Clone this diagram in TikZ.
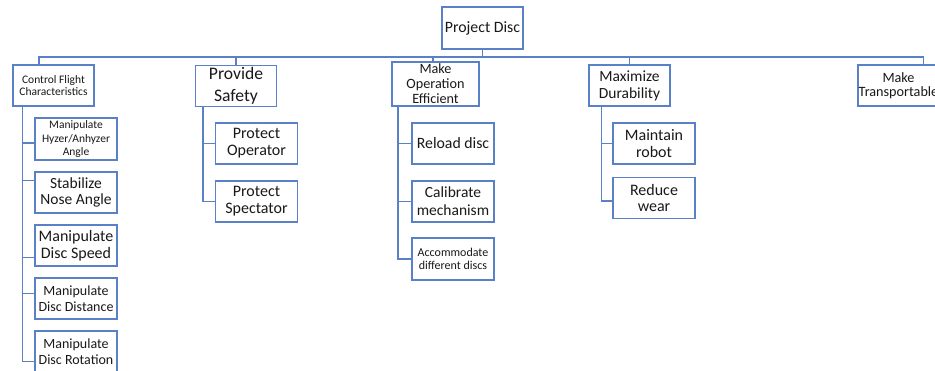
\documentclass[tikz,border=0pt]{standalone}
\usepackage{fontspec}
\setmainfont{Carlito}
\usetikzlibrary{positioning,calc}
\definecolor{boxblue}{HTML}{5A80C8}
\tikzstyle{box}=[rectangle,draw=boxblue,line width=1.1pt,inner sep=0pt,align=center,text=black!90,fill=white]
\tikzstyle{goal}=[box,minimum width=81pt,minimum height=41pt]
\tikzstyle{task}=[box,minimum width=82pt,minimum height=41pt]
\tikzstyle{link}=[draw=boxblue,line width=1.1pt]

\begin{document}
\begin{tikzpicture}[x=1pt,y=-1pt]
\useasboundingbox (0,0) rectangle (935,370);

% top
\node (root) [box,minimum width=81pt,minimum height=42pt,font=\fontsize{15.8}{18}\selectfont] at (482.5,28) {Project Disc};

% main functions
\node (ctrl) [goal,font=\fontsize{11.5}{12.5}\selectfont] at (53.5,85.5) {Control Flight\\Characteristics};
\node (safe) [goal,font=\fontsize{17.6}{22}\selectfont] at (236,86) {Provide\\Safety};
\node (oper) [goal,minimum width=87pt,minimum height=44pt,font=\fontsize{14.2}{15}\selectfont] at (435.5,84) {Make\\Operation\\Efficient};
\node (dura) [goal,font=\fontsize{15.5}{17}\selectfont] at (629.5,85.5) {Maximize\\Durability};
\node (trans) [goal,font=\fontsize{14.2}{14.5}\selectfont] at (898.5,85.5) {Make\\Transportable};

% sub functions
\node (hyz) [task,minimum height=42pt,font=\fontsize{11.5}{13.3}\selectfont] at (76,139) {Manipulate\\Hyzer/Anhyzer\\Angle};
\node (nose) [task,font=\fontsize{15.5}{16.7}\selectfont] at (76,192.5) {Stabilize\\Nose Angle};
\node (speed) [task,font=\fontsize{16}{16.7}\selectfont] at (76,245.5) {Manipulate\\Disc Speed};
\node (dist) [task,font=\fontsize{14}{15.7}\selectfont] at (76,298.5) {Manipulate\\Disc Distance};
\node (rot) [task,font=\fontsize{14}{15.7}\selectfont] at (76,351.5) {Manipulate\\Disc Rotation};

\node (oprt) [task,font=\fontsize{16}{16.7}\selectfont] at (256.5,143.5) {Protect\\Operator};
\node (spec) [task,font=\fontsize{16}{16.7}\selectfont] at (256.5,201.5) {Protect\\Spectator};

\node (reload) [task,font=\fontsize{15.8}{16.7}\selectfont] at (453,143.5) {Reload disc};
\node (calib) [task,font=\fontsize{15.5}{17.7}\selectfont] at (453,201.5) {Calibrate\\mechanism};
\node (accom) [task,minimum height=42pt,font=\fontsize{12}{13.3}\selectfont] at (453,259) {Accommodate\\different discs};

\node (maint) [task,font=\fontsize{16}{16.7}\selectfont] at (654,143.5) {Maintain\\robot};
\node (wear) [task,font=\fontsize{16}{16.7}\selectfont] at (654,198) {Reduce\\wear};

% bus
\coordinate (bus) at (482.5,57);
\draw[link] (root.south) -- (bus);
\draw[link] ([xshift=-14.5pt]ctrl.north) |- (bus) -| ([xshift=25pt]trans.north);
\foreach \n in {safe,dura}
  \draw[link] (\n.north) -- (\n.north |- bus);
\draw[link] ([xshift=-2.5pt]oper.north) -- ([xshift=-2.5pt]oper.north |- bus);

% branches
\draw[link] ([xshift=10pt]ctrl.south west) |- ([yshift=-4pt]hyz.west);
\draw[link] ([xshift=10pt]ctrl.south west) |- ([yshift=12pt]nose.west);
\draw[link] ([xshift=10pt]ctrl.south west) |- ([yshift=-12pt]speed.west);
\draw[link] ([xshift=10pt]ctrl.south west) |- ([yshift=5pt]dist.west);
\draw[link] ([xshift=10pt]ctrl.south west) |- ([yshift=-10pt]rot.west);

\foreach \c in {oprt,spec}
  \draw[link] ([xshift=8pt]safe.south west) |- (\c.west);
\foreach \c in {reload,calib,accom}
  \draw[link] ([xshift=6.5pt]oper.south west) |- (\c.west);
\draw[link] ([xshift=13pt]dura.south west) |- (maint.west);
\draw[link] ([xshift=13pt]dura.south west) |- ([yshift=-3pt]wear.west);

\end{tikzpicture}
\end{document}
